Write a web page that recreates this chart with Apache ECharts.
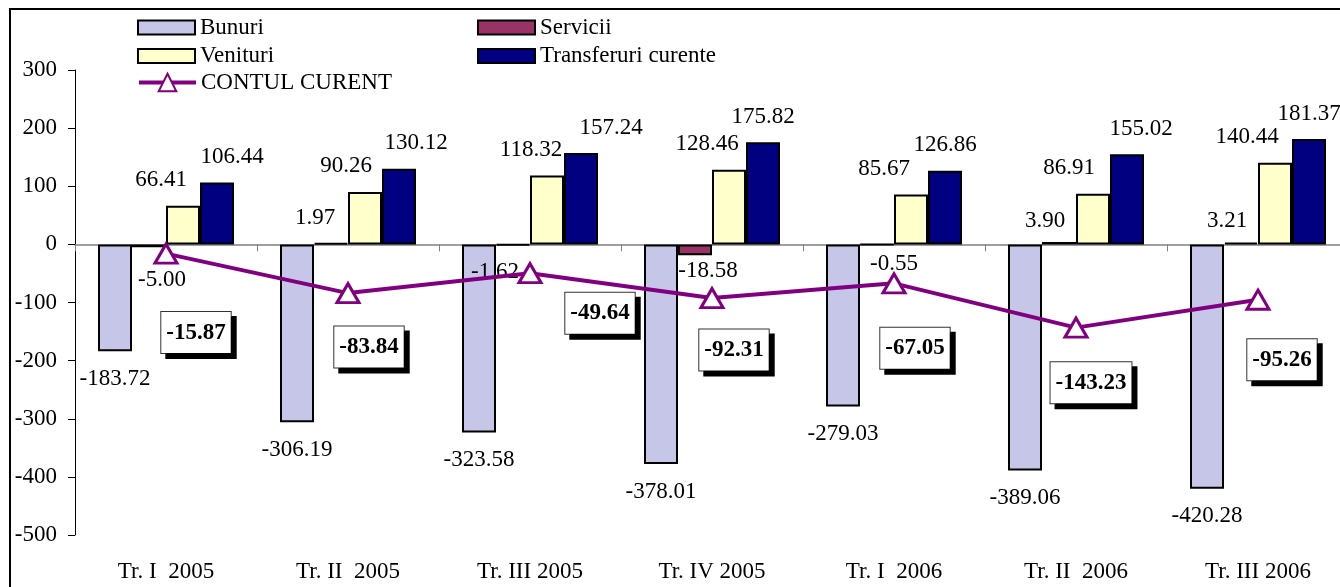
<!DOCTYPE html>
<html>
<head>
<meta charset="utf-8">
<script src="https://cdn.jsdelivr.net/npm/echarts@6/dist/echarts.min.js"></script>
<style>
html,body{margin:0;padding:0;background:#fff;}
#chart{width:1340px;height:587px;}
</style>
</head>
<body>
<div id="chart"></div>
<script>
// ---- data ----
var categories = ['Tr. I  2005','Tr. II  2005','Tr. III 2005','Tr. IV 2005','Tr. I  2006','Tr. II  2006','Tr. III 2006'];
var bunuri = [-183.72, -306.19, -323.58, -378.01, -279.03, -389.06, -420.28];
var servicii = [-5.00, 1.97, -1.62, -18.58, -0.55, 3.90, 3.21];
var venituri = [66.41, 90.26, 118.32, 128.46, 85.67, 86.91, 140.44];
var transferuri = [106.44, 130.12, 157.24, 175.82, 126.86, 155.02, 181.37];
var contulCurent = [-15.87, -83.84, -49.64, -92.31, -67.05, -143.23, -95.26];
var yTicks = {min: -500, max: 300, interval: 100};

// ---- label placement (layout only) ----
var serviciiLabelOffsets = [[13,7],[-16,1],[-18,1],[13,-10],[17,-7],[-14,4],[-14,4]];
var venituriLabelOffsets = [[-22,0],[-19,0],[-16,0],[-22,0],[-27,0],[-24,0],[-28,0]];
var transferLabelOffsets = [[15,0],[17,0],[30,0],[0,0],[0,0],[14,0],[0,0]];
var contulLabelOffsets = [[30,79],[21,54],[70,40],[22,52],[21,65],[15,55],[24,60]];

var FONT = 'Liberation Serif';
var FS = 23;
var fmt = function (p) { return Number(p.value).toFixed(2); };

function withOffsets(vals, offs, signPos) {
  return vals.map(function (v, i) {
    var o = {value: v, label: {offset: offs[i]}};
    if (signPos) o.label.position = v >= 0 ? 'top' : 'bottom';
    return o;
  });
}

var chart = echarts.init(document.getElementById('chart'), null, {renderer: 'canvas'});
function bar(name, data, color, labelExtra) {
  var label = {show: true, fontFamily: FONT, fontSize: FS, color: '#000', formatter: fmt, distance: 14};
  Object.assign(label, labelExtra || {});
  return {
    type: 'bar', name: name, data: data, barWidth: 34, barGap: '0%', xAxisIndex: 0, yAxisIndex: 0,
    itemStyle: {color: color, borderColor: '#000', borderWidth: 2},
    label: label
  };
}

var legendText = {fontFamily: FONT, fontSize: FS, color: '#000'};
var option = {
  animation: false,
  backgroundColor: '#fff',
  grid: {left: 75, right: -9, top: 70, bottom: 52, containLabel: false, outerBoundsMode: 'none'},
  legend: [
    {
      orient: 'vertical', left: 137, top: 16, padding: 0, itemWidth: 57, itemHeight: 14, itemGap: 5.5, itemTextGap: 5,
      textStyle: legendText,
      data: [
        {name: 'Bunuri', icon: 'rect'},
        {name: 'Venituri', icon: 'rect'}
      ]
    },
    {
      orient: 'vertical', left: 477, top: 16, padding: 0, itemWidth: 57, itemHeight: 14, itemGap: 5.5, itemTextGap: 5,
      textStyle: legendText,
      data: [
        {name: 'Servicii', icon: 'rect'},
        {name: 'Transferuri curente', icon: 'rect'}
      ]
    },
    {
      orient: 'vertical', left: 137, top: 71, padding: 0, itemWidth: 57, itemHeight: 22, itemTextGap: 5,
      textStyle: legendText,
      data: [
        {name: 'CONTUL CURENT', lineStyle: {width: 4, color: '#800080'}}
      ]
    }
  ],
  graphic: [{
    type: 'rect', z: 100, silent: true,
    shape: {x: 10, y: 9, width: 1345, height: 600},
    style: {fill: 'none', stroke: '#000', lineWidth: 2}
  }],
  xAxis: [
    {
      type: 'category', data: categories, position: 'bottom',
      axisLine: {show: false, onZero: false}, axisTick: {show: false},
      axisLabel: {fontFamily: FONT, fontSize: FS, color: '#000', margin: 25, interval: 0}
    },
    {
      type: 'category', data: categories, position: 'bottom',
      axisLine: {show: true, onZero: true, lineStyle: {color: '#808080', width: 1.5}},
      axisTick: {show: true, length: 7, lineStyle: {color: '#808080', width: 1}},
      axisLabel: {show: false}
    }
  ],
  yAxis: {
    type: 'value', min: yTicks.min, max: yTicks.max, interval: yTicks.interval,
    axisLine: {show: true, lineStyle: {color: '#000', width: 1}},
    axisTick: {show: true, length: 7, lineStyle: {color: '#000'}},
    splitLine: {show: false},
    axisLabel: {fontFamily: FONT, fontSize: FS, color: '#000', margin: 18}
  },
  series: [
    bar('Bunuri', bunuri, '#c6c6e8', {position: 'bottom', distance: 16}),
    bar('Servicii', withOffsets(servicii, serviciiLabelOffsets, true), '#993366', {}),
    bar('Venituri', withOffsets(venituri, venituriLabelOffsets, false), '#ffffcc', {position: 'top'}),
    bar('Transferuri curente', withOffsets(transferuri, transferLabelOffsets, false), '#000080', {position: 'top'}),
    {
      name: 'CONTUL CURENT', type: 'line', z: 10, xAxisIndex: 0, yAxisIndex: 0,
      data: withOffsets(contulCurent, contulLabelOffsets, false),
      symbol: 'triangle', symbolSize: [22, 19],
      lineStyle: {color: '#800080', width: 4},
      itemStyle: {color: '#fff', borderColor: '#800080', borderWidth: 3},
      label: {
        show: true, position: 'inside', formatter: fmt,
        fontFamily: FONT, fontSize: FS, fontWeight: 'bold', color: '#000',
        backgroundColor: '#fff', borderColor: '#333', borderWidth: 1,
        padding: [9, 5, 9, 5],
        shadowColor: '#000', shadowBlur: 0, shadowOffsetX: 5, shadowOffsetY: 5
      }
    }
  ]
};
chart.setOption(option);
</script>
</body>
</html>
